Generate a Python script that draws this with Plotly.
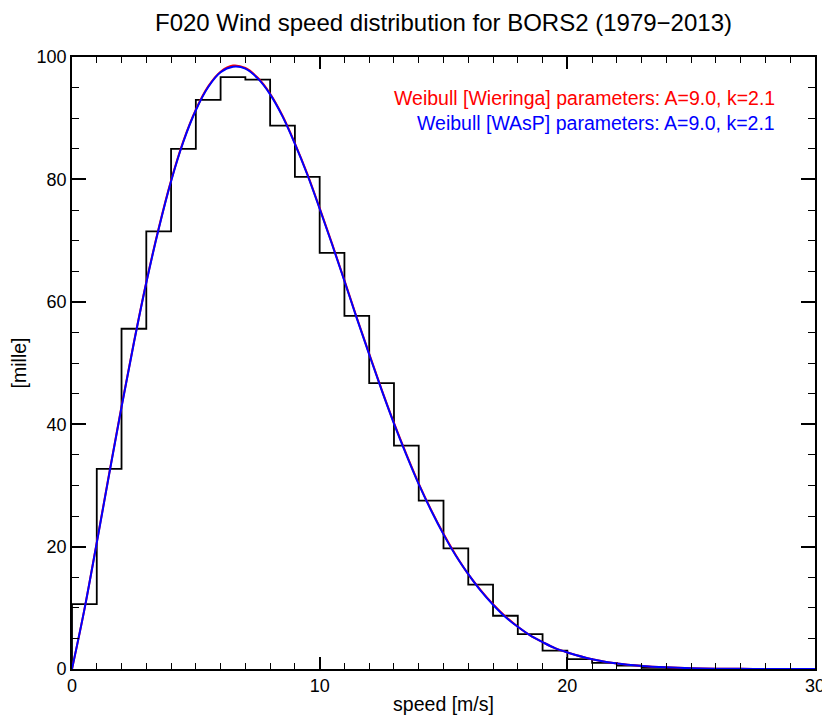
import plotly.graph_objects as go

# Histogram (per mille) for 1 m/s bins starting at 0
bin_edges = list(range(0, 31))
hist_vals = [10.6, 32.7, 55.6, 71.5, 85.0, 93.0, 96.7, 96.3, 88.8, 80.4,
             68.0, 57.7, 46.7, 36.5, 27.5, 19.7, 13.8, 8.7, 5.7, 3.0,
             1.6, 1.0, 0.55, 0.2, 0.0, 0.0, 0.0, 0.0, 0.0, 0.0]

# Curves
curve_x = [0, 0.5, 1, 1.5, 2, 2.5, 3, 3.5, 4, 4.5, 5, 5.5, 6, 6.5, 7, 7.5, 8, 8.5,
           9, 9.5, 10, 10.5, 11, 11.5, 12, 12.5, 13, 13.5, 14, 14.5, 15, 15.5,
           16, 16.5, 17, 17.5, 18, 18.5, 19, 19.5, 20, 21, 22, 23, 24, 25, 26,
           27, 28, 29, 30]
wieringa_y = [0, 9.7, 20.7, 31.9, 42.9, 53.4, 63.2, 72.0, 79.8, 86.3, 91.4, 95.2,
              97.6, 98.6, 98.2, 96.6, 94.0, 90.4, 85.9, 80.9, 75.3, 69.5, 63.5,
              57.4, 51.5, 45.7, 40.2, 35.1, 30.3, 26.0, 22.1, 18.6, 15.5, 12.9,
              10.6, 8.6, 6.9, 5.5, 4.4, 3.4, 2.7, 1.6, 0.9, 0.5, 0.27, 0.13, 0.06,
              0.03, 0.01, 0.005, 0.002]
wasp_y = [0, 9.7, 20.6, 31.8, 42.8, 53.3, 63.1, 71.9, 79.7, 86.2, 91.3, 95.1,
          97.5, 98.4, 98.1, 96.5, 93.9, 90.3, 85.8, 80.8, 75.2, 69.4, 63.4,
          57.3, 51.4, 45.6, 40.1, 35.0, 30.2, 25.9, 22.0, 18.5, 15.5, 12.8,
          10.5, 8.5, 6.9, 5.5, 4.4, 3.4, 2.7, 1.6, 0.9, 0.5, 0.27, 0.13, 0.06,
          0.03, 0.01, 0.005, 0.002]

title_text = "F020 Wind speed distribution for BORS2 (1979\u22122013)"
label_red = "Weibull [Wieringa] parameters: A=9.0, k=2.1"
label_blue = "Weibull [WAsP] parameters: A=9.0, k=2.1"

FONT = "Liberation Sans, Arial, Helvetica, sans-serif"

step_x = [0] + bin_edges
step_y = [0] + hist_vals + [hist_vals[-1]]

fig = go.Figure()
fig.add_trace(go.Scatter(x=step_x, y=step_y, mode="lines", line_shape="hv",
                         line=dict(color="black", width=1.8), showlegend=False,
                         cliponaxis=False))
fig.add_trace(go.Scatter(x=curve_x, y=wieringa_y, mode="lines", line_shape="spline",
                         line=dict(color="red", width=2), showlegend=False))
fig.add_trace(go.Scatter(x=curve_x, y=wasp_y, mode="lines", line_shape="spline",
                         line=dict(color="blue", width=2), showlegend=False))

fig.add_annotation(x=0.949, y=0.933, xref="paper", yref="paper", xanchor="right",
                   yanchor="middle", text=label_red, showarrow=False,
                   font=dict(color="red", size=19.5, family=FONT))
fig.add_annotation(x=0.949, y=0.892, xref="paper", yref="paper", xanchor="right",
                   yanchor="middle", text=label_blue, showarrow=False,
                   font=dict(color="blue", size=19.5, family=FONT))

axis_common = dict(showgrid=False, zeroline=False, showline=True, linecolor="black",
                   linewidth=1.6, mirror="allticks", ticks="inside", tickcolor="black",
                   tickwidth=1.6, automargin=False,
                   tickfont=dict(size=18, family=FONT, color="black"))

fig.update_xaxes(range=[0, 30], tick0=0, dtick=10, ticklen=12,
                 minor=dict(dtick=1, ticks="inside", ticklen=6, tickcolor="black", tickwidth=1.4),
                 title=dict(text="speed [m/s]", font=dict(size=19.5, family=FONT, color="black"),
                            standoff=2),
                 **axis_common)
fig.update_yaxes(range=[0, 100], tick0=0, dtick=20, ticklen=14,
                 minor=dict(dtick=5, ticks="inside", ticklen=7, tickcolor="black", tickwidth=1.4),
                 title=dict(text="[mille]", font=dict(size=19.5, family=FONT, color="black"),
                            standoff=10),
                 **axis_common)

fig.update_layout(
    width=822, height=716,
    margin=dict(l=64, r=15, t=49, b=55),
    paper_bgcolor="white", plot_bgcolor="white",
    title=dict(text=title_text, x=0.5, xref="paper", xanchor="center",
               y=0.979, yref="container", yanchor="middle",
               font=dict(size=24, family=FONT, color="black")),
    font=dict(family=FONT, color="black"),
)

fig.write_html("out.html")
